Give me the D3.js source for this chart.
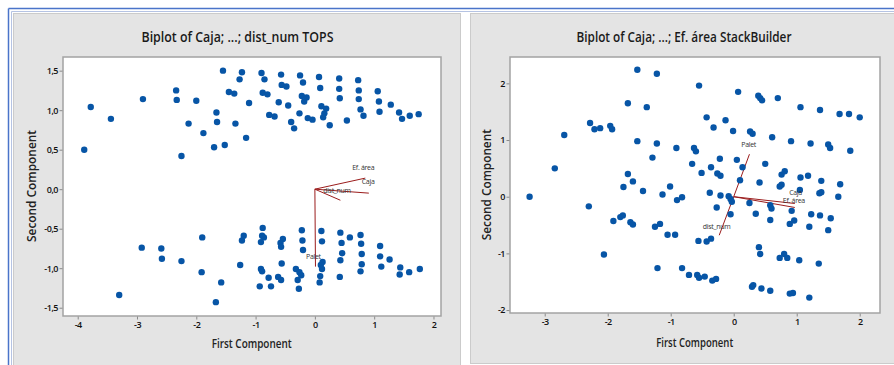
<!DOCTYPE html>
<html>
<head>
<meta charset="utf-8">
<script src="https://cdn.jsdelivr.net/npm/d3@7"></script>
<style>
  body { margin: 0; background: #fff; }
  svg { display: block; }
  text { font-family: "Open Sans", "Noto Sans", sans-serif; }
</style>
</head>
<body>
<svg id="chart" width="894" height="365"></svg>
<script>
// left biplot: scores (first, second component)
const topsScores = [
  [-3.78, 1.04], [-3.44, 0.89], [-3.89, 0.50], [-2.90, 1.14], [-2.34, 1.25], [-2.33, 1.13],
  [-2.25, 0.42], [-2.13, 0.83], [-2.00, 1.12], [-1.88, 0.71], [-1.70, 0.53], [-1.66, 0.97],
  [-1.65, 0.85], [-1.55, 1.50], [-1.52, 0.56], [-1.45, 1.23], [-1.36, 1.21], [-1.34, 0.83],
  [-1.27, 1.39], [-1.23, 1.48], [-1.16, 0.65], [-1.11, 1.09], [-0.90, 1.47], [-0.85, 1.39],
  [-0.88, 1.22], [-0.80, 1.20], [-0.77, 0.94], [-0.68, 0.92], [-0.61, 1.10], [-0.57, 1.45],
  [-0.56, 1.32], [-0.48, 1.30], [-0.45, 1.06], [-0.40, 0.85], [-0.35, 0.77], [-0.25, 1.44],
  [-0.20, 1.35], [-0.22, 1.18], [-0.14, 1.16], [-0.18, 1.11], [-0.26, 0.96], [-0.12, 0.90],
  [-0.04, 0.88], [0.07, 1.42], [0.09, 1.28], [0.11, 1.05], [0.19, 1.02], [0.16, 0.96],
  [0.14, 0.91], [0.25, 0.81], [0.41, 1.40], [0.41, 1.27], [0.42, 1.15], [0.54, 0.87],
  [0.73, 1.38], [0.74, 1.25], [0.74, 1.14], [0.77, 1.01], [0.82, 0.93], [1.06, 1.24],
  [1.08, 1.11], [1.09, 0.98], [1.28, 1.07], [1.42, 0.97], [1.47, 0.89], [1.60, 0.93],
  [1.75, 0.95],
  [-3.30, -1.34], [-2.92, -0.74], [-2.59, -0.75], [-2.58, -0.88], [-2.25, -0.91], [-1.90, -0.61],
  [-1.91, -1.05], [-1.58, -1.18], [-1.67, -1.43], [-1.23, -0.65], [-1.20, -0.59], [-1.26, -0.96],
  [-0.88, -0.49], [-0.89, -0.59], [-0.86, -0.61], [-0.91, -0.67], [-0.91, -1.01], [-0.89, -1.04],
  [-0.78, -1.12], [-0.93, -1.23], [-0.74, -1.23], [-0.54, -0.63], [-0.58, -0.68], [-0.57, -0.73],
  [-0.56, -0.94], [-0.62, -1.11], [-0.57, -1.15], [-0.22, -0.52], [-0.21, -0.65], [-0.20, -0.77],
  [-0.32, -1.01], [-0.26, -1.05], [-0.23, -1.09], [-0.29, -1.15], [-0.27, -1.26], [0.11, -0.53],
  [0.12, -0.66], [0.13, -0.92], [0.10, -0.96], [0.12, -1.01], [0.09, -1.10], [0.08, -1.18],
  [0.43, -0.55], [0.45, -0.68], [0.46, -0.81], [0.43, -0.90], [0.42, -1.11], [0.59, -0.61],
  [0.77, -0.58], [0.78, -0.69], [0.79, -0.82], [0.79, -0.95], [0.77, -1.04], [1.10, -0.72],
  [1.10, -0.85], [1.12, -0.98], [1.26, -0.89], [1.44, -0.99], [1.43, -1.08], [1.59, -1.05],
  [1.77, -1.01]
];
const topsVectors = [["Ef. área", 0.85, 0.14], ["Caja", 0.91, -0.05], ["dist_num", 0.43, -0.14], ["Palet", 0.01, -0.98]];
const topsLabels = [["Ef. área", 0.63, 0.28], ["Caja", 0.79, 0.095], ["dist_num", 0.14, -0.02], ["Palet", -0.15, -0.85]];
const topsXTicks = [-4, -3, -2, -1, 0, 1, 2];
const topsYTicks = [-1.5, -1, -0.5, 0, 0.5, 1, 1.5];

// right biplot
const stackScores = [
  [-1.53, 2.24], [-1.22, 2.17], [-0.55, 1.96], [0.07, 1.85], [0.39, 1.78], [0.42, 1.74],
  [0.45, 1.70], [0.70, 1.74], [1.06, 1.58], [1.37, 1.53], [1.68, 1.46], [1.83, 1.46],
  [2.00, 1.40], [-1.68, 1.65], [-1.38, 1.58], [-0.43, 1.40], [-0.13, 1.35], [-0.32, 1.22],
  [-0.01, 1.16], [0.26, 1.15], [0.30, 1.11], [0.61, 1.05], [0.91, 0.98], [1.22, 0.94],
  [1.50, 0.92], [1.53, 0.86], [1.85, 0.81], [-2.28, 1.30], [-2.21, 1.19], [-2.12, 1.21],
  [-1.96, 1.25], [-1.93, 1.19], [-2.69, 1.09], [-2.84, 0.50], [-1.53, 0.98], [-1.22, 0.94],
  [-0.91, 0.86], [-0.63, 0.86], [-0.60, 0.80], [-1.29, 0.69], [-0.66, 0.58], [-0.22, 0.67],
  [0.05, 0.65], [-0.36, 0.52], [0.14, 0.52], [0.50, 0.58], [-0.51, 0.42], [-0.26, 0.41],
  [-0.21, 0.37], [-1.68, 0.40], [-1.60, 0.27], [0.10, 0.29], [0.41, 0.25], [0.76, 0.39],
  [0.81, 0.45], [1.06, 0.34], [1.18, 0.37], [1.39, 0.28], [1.69, 0.22],
  [-3.24, 0.00], [-1.75, 0.17], [-1.44, 0.10], [-1.01, 0.18], [-1.13, 0.04], [-0.90, -0.06],
  [-0.82, -0.01], [-0.38, 0.07], [-0.21, 0.02], [-0.08, 0.01], [-0.05, -0.04], [-0.03, -0.09],
  [0.76, 0.21], [0.73, 0.18], [1.05, 0.12], [1.36, 0.06], [1.39, 0.08], [1.66, 0.00],
  [-2.30, -0.17], [-1.91, -0.43], [-1.80, -0.36], [-1.76, -0.33], [-1.64, -0.45], [-1.60, -0.49],
  [-1.25, -0.53], [-1.17, -0.48], [-1.05, -0.67], [-0.93, -0.67], [-0.56, -0.78], [-0.43, -0.79],
  [-0.36, -0.74], [-0.27, -0.19], [-0.05, -0.31], [0.25, -0.11], [0.35, -0.30], [0.58, -0.15],
  [0.60, -0.21], [0.58, -0.41], [0.92, -0.25], [0.89, -0.48], [0.96, -0.42], [1.23, -0.31],
  [1.37, -0.33], [1.20, -0.53], [1.54, -0.38], [1.50, -0.59], [-2.06, -1.02], [-1.21, -1.26],
  [-0.82, -1.26], [-0.71, -1.38], [-0.58, -1.38], [-0.55, -1.43], [-0.46, -1.41], [-0.34, -1.48],
  [-0.28, -1.45], [0.40, -0.89], [0.42, -1.01], [0.73, -1.08], [0.80, -1.01], [0.85, -1.08],
  [1.04, -1.12], [1.35, -1.18], [0.29, -1.59], [0.31, -1.56], [0.44, -1.62], [0.58, -1.66],
  [0.89, -1.71], [0.94, -1.70], [1.20, -1.78]
];
const stackVectors = [["Palet", 0.25, 0.75], ["dist_num", -0.23, -0.68], ["Caja", 0.97, -0.12], ["Ef. área", 0.97, -0.19]];
const stackLabels = [["Palet", 0.12, 0.92], ["dist_num", -0.49, -0.53], ["Caja", 0.88, 0.08], ["Ef. área", 0.78, -0.07]];
const stackXTicks = [-3, -2, -1, 0, 1, 2];
const stackYTicks = [-2, -1, 0, 1, 2];

const svg = d3.select('#chart');
const comma = d3.formatLocale({decimal: ',', thousands: '.', grouping: [3], currency: ['', ''], minus: '-'});

// window frame lines
svg.append('line').attr('x1', 8.5).attr('x2', 894).attr('y1', 8.5).attr('y2', 8.5).attr('stroke', '#4a74c9').attr('stroke-width', 1.5);
svg.append('line').attr('x1', 8.5).attr('x2', 8.5).attr('y1', 8.5).attr('y2', 365).attr('stroke', '#4a74c9').attr('stroke-width', 1.5);
svg.append('line').attr('x1', 11.5).attr('x2', 894).attr('y1', 11.5).attr('y2', 11.5).attr('stroke', '#b5c3e3');
svg.append('line').attr('x1', 11.5).attr('x2', 11.5).attr('y1', 11.5).attr('y2', 365).attr('stroke', '#b5c3e3');

const panels = [
  {
    box: [13, 13, 447, 360], frame: [63, 57, 441, 316],
    xDomain: [-4.248, 2.127], yDomain: [-1.605, 1.673],
    xTicks: topsXTicks, yTicks: topsYTicks, yFormat: comma.format('.1f'),
    scores: topsScores, vectors: topsVectors, labels: topsLabels,
    title: 'Biplot of Caja; ...; dist_num TOPS', titleX: 237.5, titleW: 192,
    xTitleX: 251.7, xTitleY: 348, xTitleW: 80,
    yTitleX: 36, yTitleY: 186, yTitleW: 112
  },
  {
    box: [470, 13, 440, 350], frame: [510, 57, 880, 313],
    xDomain: [-3.551, 2.322], yDomain: [-2.052, 2.465],
    xTicks: stackXTicks, yTicks: stackYTicks, yFormat: comma.format('d'),
    scores: stackScores, vectors: stackVectors, labels: stackLabels,
    title: 'Biplot of Caja; ...; Ef. área StackBuilder', titleX: 684, titleW: 215,
    xTitleX: 694.7, xTitleY: 346.5, xTitleW: 77,
    yTitleX: 491, yTitleY: 184.7, yTitleW: 111
  }
];

panels.forEach(p => {
  const [bx, by, bw, bh] = p.box;
  const [fx0, fy0, fx1, fy1] = p.frame;
  const g = svg.append('g');

  g.append('rect').attr('x', bx + 0.5).attr('y', by + 0.5).attr('width', bw).attr('height', bh)
    .attr('fill', '#e4e4e4').attr('stroke', '#cbcbcb');

  const x = d3.scaleLinear().domain(p.xDomain).range([fx0, fx1]);
  const y = d3.scaleLinear().domain(p.yDomain).range([fy1, fy0]);

  g.append('rect').attr('x', fx0).attr('y', fy0).attr('width', fx1 - fx0).attr('height', fy1 - fy0)
    .attr('fill', '#fff').attr('stroke', '#a3a3a3').attr('stroke-width', 1.5);

  // axes
  const xAxis = g.append('g').attr('transform', `translate(0,${fy1 + 0.5})`)
    .call(d3.axisBottom(x).tickValues(p.xTicks).tickSize(3).tickPadding(2).tickFormat(comma.format('d')));
  const yAxis = g.append('g').attr('transform', `translate(${fx0 - 0.5},0)`)
    .call(d3.axisLeft(y).tickValues(p.yTicks).tickSize(3).tickPadding(1.5).tickFormat(p.yFormat));
  [xAxis, yAxis].forEach(a => {
    a.select('.domain').remove();
    a.selectAll('.tick line').attr('stroke', '#8a8a8a');
    a.selectAll('.tick text').attr('fill', '#111').style('font-size', '9px').style('font-weight', 600)
      .style('font-family', '"Open Sans", sans-serif').attr('letter-spacing', '-0.5px');
  });

  // loading vectors
  g.append('g').selectAll('line').data(p.vectors).join('line')
    .attr('x1', x(0)).attr('y1', y(0))
    .attr('x2', d => x(d[1])).attr('y2', d => y(d[2]))
    .attr('stroke', '#9b1c1c').attr('stroke-width', 1);

  // scores
  g.append('g').selectAll('circle').data(p.scores).join('circle')
    .attr('cx', d => x(d[0])).attr('cy', d => y(d[1])).attr('r', 3.2)
    .attr('fill', '#0755a6');

  g.append('g').selectAll('text').data(p.labels).join('text')
    .attr('x', d => x(d[1])).attr('y', d => y(d[2]) + 2.5)
    .attr('fill', '#333').style('font-size', '7px').attr('letter-spacing', '-0.3px')
    .text(d => d[0]);

  // titles
  g.append('text').attr('x', p.titleX).attr('y', 41.5).attr('text-anchor', 'middle')
    .attr('textLength', p.titleW).attr('lengthAdjust', 'spacingAndGlyphs')
    .style('font-size', '13.5px').style('font-weight', 600).attr('fill', '#1a1a1a').text(p.title);
  g.append('text').attr('x', p.xTitleX).attr('y', p.xTitleY).attr('text-anchor', 'middle')
    .attr('textLength', p.xTitleW).attr('lengthAdjust', 'spacingAndGlyphs')
    .style('font-size', '12px').style('font-weight', 600).attr('fill', '#222').text('First Component');
  g.append('text').attr('transform', `translate(${p.yTitleX},${p.yTitleY}) rotate(-90)`).attr('text-anchor', 'middle')
    .attr('textLength', p.yTitleW).attr('lengthAdjust', 'spacingAndGlyphs')
    .style('font-size', '12px').style('font-weight', 600).attr('fill', '#222').text('Second Component');
});
</script>
</body>
</html>
